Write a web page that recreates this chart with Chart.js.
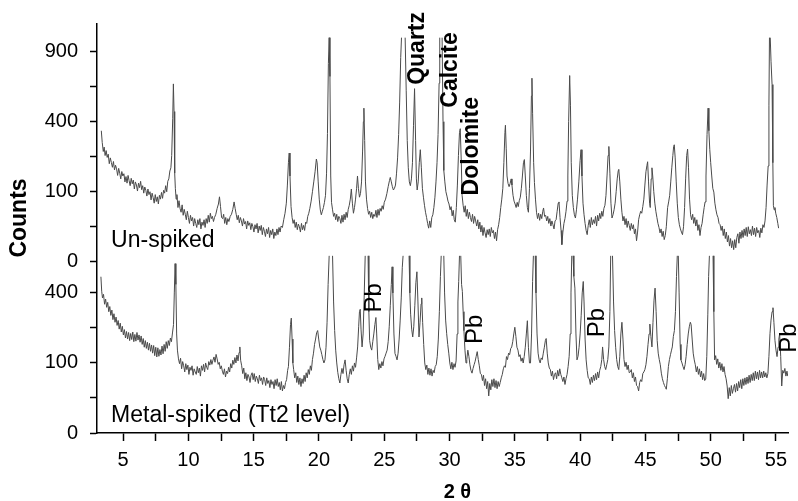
<!DOCTYPE html>
<html>
<head>
<meta charset="utf-8">
<script src="https://cdn.jsdelivr.net/npm/chart.js@4.4.1/dist/chart.umd.min.js"></script>
<style>
    body { margin: 0; background: #ffffff; }
    canvas { display: block; }
</style>
</head>
<body>
<canvas id="xrdChart" width="798" height="501"></canvas>
<script>
// [2 theta, counts] (top panel), peaks cut at the top like the original
const unspikedPattern = [
    [3.33,350],[3.40,290],[3.48,248],[3.55,268],[3.62,230],[3.70,252],[3.78,222],[3.86,236],[3.94,196],[4.02,220],
    [4.10,201],[4.18,182],[4.26,205],[4.34,172],[4.42,190],[4.50,176],[4.58,152],[4.66,178],[4.74,160],[4.82,140],
    [4.90,166],[4.98,150],[5.06,158],[5.14,130],[5.22,148],[5.30,126],[5.38,152],[5.46,134],[5.54,118],[5.62,142],
    [5.70,124],[5.78,136],[5.86,108],[5.94,130],[6.02,120],[6.10,102],[6.18,126],[6.26,112],[6.34,132],[6.42,106],
    [6.50,118],[6.58,96],[6.66,114],[6.74,104],[6.82,88],[6.90,108],[6.98,92],[7.06,100],[7.14,78],[7.22,96],
    [7.30,84],[7.38,70],[7.46,92],[7.54,74],[7.62,86],[7.70,68],[7.78,90],[7.86,80],[7.94,98],[8.02,82],
    [8.10,104],[8.18,96],[8.26,118],[8.34,100],[8.42,132],[8.50,140],[8.58,168],[8.66,180],[8.72,230],[8.80,420],
    [8.85,645],[8.90,460],[8.95,160],[9.00,110],[9.06,80],[9.12,92],[9.20,60],[9.28,76],[9.36,58],[9.44,50],
    [9.52,66],[9.60,44],[9.68,56],[9.76,46],[9.84,36],[9.92,52],[10.00,40],[10.08,30],[10.16,44],[10.24,34],
    [10.32,40],[10.40,26],[10.48,38],[10.56,30],[10.64,24],[10.72,36],[10.80,28],[10.88,38],[10.96,22],[11.04,32],
    [11.12,27],[11.20,36],[11.28,24],[11.36,38],[11.44,30],[11.52,44],[11.60,32],[11.68,48],[11.76,38],[11.84,42],
    [11.92,33],[12.00,40],[12.10,46],[12.20,58],[12.30,68],[12.38,86],[12.46,62],[12.54,40],[12.62,38],[12.70,46],
    [12.78,30],[12.86,40],[12.94,28],[13.02,38],[13.10,33],[13.20,42],[13.30,46],[13.40,56],[13.50,73],[13.58,58],
    [13.66,46],[13.74,36],[13.82,44],[13.90,31],[13.98,40],[14.06,34],[14.14,26],[14.22,38],[14.30,29],[14.38,33],
    [14.46,22],[14.54,34],[14.62,27],[14.70,31],[14.78,21],[14.86,30],[14.94,25],[15.02,18],[15.10,28],[15.18,22],
    [15.26,30],[15.34,17],[15.42,26],[15.50,20],[15.58,27],[15.66,15],[15.74,24],[15.82,19],[15.90,13],[15.98,22],
    [16.06,16],[16.14,24],[16.22,12],[16.30,20],[16.38,15],[16.46,22],[16.54,11],[16.62,18],[16.70,14],[16.78,22],
    [16.86,15],[16.94,24],[17.02,18],[17.10,26],[17.20,24],[17.30,36],[17.40,48],[17.50,70],[17.58,120],[17.66,200],
    [17.72,241],[17.78,150],[17.86,62],[17.94,40],[18.02,30],[18.10,36],[18.18,24],[18.26,32],[18.34,21],[18.42,29],
    [18.50,25],[18.58,18],[18.66,30],[18.74,21],[18.82,27],[18.90,20],[18.98,32],[19.06,30],[19.14,42],[19.22,48],
    [19.30,58],[19.40,75],[19.50,100],[19.60,130],[19.70,165],[19.80,215],[19.86,200],[19.94,130],[20.02,80],[20.10,55],
    [20.18,45],[20.26,52],[20.34,60],[20.42,72],[20.50,90],[20.58,160],[20.65,335],[20.72,800],[20.78,1024],[20.84,700],
    [20.90,150],[20.96,72],[21.04,55],[21.12,42],[21.20,48],[21.28,36],[21.36,46],[21.44,33],[21.52,42],[21.60,38],
    [21.68,30],[21.76,44],[21.84,32],[21.92,46],[22.00,36],[22.08,50],[22.16,40],[22.24,56],[22.32,65],[22.40,80],
    [22.48,108],[22.56,70],[22.64,48],[22.72,60],[22.80,80],[22.88,110],[22.95,150],[23.02,110],[23.10,85],[23.18,95],
    [23.26,130],[23.34,250],[23.40,400],[23.44,481],[23.50,300],[23.56,130],[23.64,80],[23.72,58],[23.80,46],[23.88,52],
    [23.96,40],[24.04,50],[24.12,38],[24.20,46],[24.28,42],[24.36,54],[24.44,40],[24.52,56],[24.60,44],[24.68,58],
    [24.76,52],[24.84,64],[24.92,56],[25.00,72],[25.10,80],[25.20,95],[25.30,115],[25.40,135],[25.46,145],[25.54,130],
    [25.62,115],[25.70,105],[25.78,110],[25.86,120],[25.94,160],[26.02,220],[26.10,330],[26.18,520],[26.26,850],[26.32,1024],
    [26.60,1024],[26.68,600],[26.76,300],[26.84,180],[26.92,130],[27.00,118],[27.08,140],[27.16,200],[27.24,380],[27.32,611],
    [27.40,300],[27.46,140],[27.52,105],[27.60,130],[27.68,200],[27.76,256],[27.84,180],[27.92,110],[28.00,85],[28.08,65],
    [28.16,50],[28.24,40],[28.32,30],[28.40,23],[28.48,34],[28.56,24],[28.64,40],[28.72,45],[28.80,60],[28.88,85],
    [28.96,130],[29.04,200],[29.12,330],[29.20,650],[29.25,1024],[29.43,1024],[29.50,400],[29.56,170],[29.64,130],[29.72,100],
    [29.80,88],[29.88,75],[29.96,68],[30.04,55],[30.12,62],[30.20,43],[30.28,54],[30.36,36],[30.44,32],[30.52,60],
    [30.60,120],[30.68,230],[30.76,340],[30.82,361],[30.90,200],[30.96,90],[31.04,65],[31.12,50],[31.20,64],[31.28,42],
    [31.36,56],[31.44,38],[31.52,50],[31.60,40],[31.68,33],[31.76,46],[31.84,30],[31.92,42],[32.00,34],[32.08,26],
    [32.16,36],[32.24,22],[32.32,32],[32.40,18],[32.48,27],[32.56,14],[32.64,24],[32.72,17],[32.80,12],[32.88,21],
    [32.96,15],[33.04,22],[33.12,13],[33.20,24],[33.28,17],[33.36,20],[33.44,11],[33.52,18],[33.60,9],[33.68,21],
    [33.76,28],[33.84,40],[33.92,60],[34.00,80],[34.08,110],[34.16,200],[34.24,340],[34.28,380],[34.34,260],[34.40,150],
    [34.48,125],[34.56,115],[34.64,125],[34.72,140],[34.78,120],[34.86,90],[34.94,75],[35.02,68],[35.10,60],[35.18,72],
    [35.26,62],[35.34,76],[35.42,85],[35.50,110],[35.58,150],[35.66,200],[35.73,213],[35.80,150],[35.88,90],[35.96,60],
    [36.04,50],[36.12,110],[36.20,250],[36.27,560],[36.31,687],[36.36,450],[36.44,200],[36.50,128],[36.58,80],[36.66,50],
    [36.74,38],[36.82,48],[36.90,35],[36.98,46],[37.06,38],[37.14,52],[37.20,59],[37.28,42],[37.36,44],[37.44,34],
    [37.52,42],[37.60,30],[37.68,38],[37.76,26],[37.84,34],[37.92,28],[38.00,22],[38.08,34],[38.16,36],[38.24,52],
    [38.32,70],[38.38,73],[38.46,40],[38.54,20],[38.60,6],[38.68,18],[38.76,30],[38.84,38],[38.92,52],[39.00,75],
    [39.06,150],[39.12,400],[39.20,707],[39.26,500],[39.32,200],[39.40,90],[39.48,60],[39.56,45],[39.64,39],[39.72,55],
    [39.80,80],[39.90,130],[40.00,210],[40.07,256],[40.14,150],[40.22,70],[40.30,45],[40.38,30],[40.46,20],[40.54,15],
    [40.62,27],[40.70,36],[40.78,24],[40.86,40],[40.94,28],[41.02,36],[41.10,30],[41.18,42],[41.26,26],[41.34,44],
    [41.42,34],[41.50,48],[41.58,38],[41.66,52],[41.74,42],[41.82,58],[41.90,65],[41.98,90],[42.06,150],[42.14,230],
    [42.20,271],[42.28,160],[42.36,70],[42.44,39],[42.52,45],[42.60,55],[42.68,70],[42.76,100],[42.84,140],[42.92,170],
    [42.96,174],[43.04,130],[43.12,80],[43.20,50],[43.28,34],[43.36,42],[43.44,28],[43.52,38],[43.60,24],[43.68,34],
    [43.76,27],[43.84,20],[43.92,30],[44.00,22],[44.08,28],[44.16,16],[44.24,22],[44.32,9],[44.40,18],[44.48,36],
    [44.56,45],[44.64,52],[44.72,48],[44.80,62],[44.88,80],[44.96,120],[45.04,165],[45.12,190],[45.17,204],[45.24,130],
    [45.32,70],[45.37,60],[45.44,140],[45.50,180],[45.56,150],[45.64,100],[45.72,70],[45.80,52],[45.88,40],[45.96,30],
    [46.04,24],[46.12,17],[46.20,22],[46.28,13],[46.36,19],[46.44,10],[46.52,14],[46.60,25],[46.70,60],[46.78,73],
    [46.86,90],[46.94,130],[47.02,180],[47.10,230],[47.16,270],[47.21,279],[47.28,220],[47.36,130],[47.44,70],[47.52,40],
    [47.60,28],[47.68,22],[47.76,18],[47.84,15],[47.92,25],[48.00,60],[48.08,140],[48.16,230],[48.23,259],[48.30,180],
    [48.38,80],[48.46,45],[48.54,36],[48.62,46],[48.70,30],[48.78,40],[48.86,26],[48.94,36],[49.02,20],[49.10,28],
    [49.18,14],[49.26,24],[49.34,30],[49.42,45],[49.50,60],[49.57,73],[49.64,150],[49.72,330],[49.80,481],[49.86,350],
    [49.93,256],[50.00,200],[50.08,150],[50.16,110],[50.24,99],[50.32,70],[50.40,55],[50.48,45],[50.56,40],[50.64,30],
    [50.72,28],[50.80,20],[50.88,26],[50.96,14],[51.04,22],[51.12,11],[51.20,18],[51.28,8],[51.36,14],[51.44,5],
    [51.52,11],[51.60,4],[51.68,9],[51.76,3],[51.84,10],[51.92,4],[52.00,12],[52.08,16],[52.16,7],[52.24,18],
    [52.32,11],[52.40,20],[52.48,12],[52.56,22],[52.64,14],[52.72,24],[52.80,13],[52.88,25],[52.96,16],[53.04,21],
    [53.12,14],[53.20,26],[53.28,15],[53.36,23],[53.44,13],[53.52,24],[53.60,17],[53.68,20],[53.76,12],[53.84,23],
    [53.92,17],[54.00,28],[54.08,24],[54.16,34],[54.24,60],[54.32,120],[54.40,187],[54.46,500],[54.50,1024],[54.56,1024],
    [54.62,820],[54.70,640],[54.76,200],[54.80,65],[54.86,55],[54.92,60],[54.98,48],[55.06,40],[55.14,30],[55.20,23]
]

// [2 theta, counts] for the metal-spiked (Tt2 level) pattern, bottom panel
const spikedPattern = [
    [3.30,498],[3.36,410],[3.42,372],[3.50,392],[3.58,338],[3.66,366],[3.74,322],[3.82,348],[3.90,300],[3.98,326],
    [4.06,282],[4.14,308],[4.22,262],[4.30,290],[4.38,250],[4.46,274],[4.54,236],[4.62,258],[4.70,220],[4.78,246],
    [4.86,208],[4.94,232],[5.02,196],[5.10,218],[5.18,184],[5.26,210],[5.34,180],[5.42,206],[5.50,174],[5.58,202],
    [5.66,178],[5.74,208],[5.82,170],[5.90,198],[5.98,172],[6.06,206],[6.14,176],[6.22,196],[6.30,168],[6.38,192],
    [6.46,160],[6.54,182],[6.62,150],[6.70,174],[6.78,146],[6.86,168],[6.94,140],[7.02,164],[7.10,136],[7.18,158],
    [7.26,130],[7.34,156],[7.42,122],[7.50,150],[7.58,118],[7.66,148],[7.74,120],[7.82,142],[7.90,124],[7.98,154],
    [8.06,128],[8.14,160],[8.22,136],[8.30,170],[8.38,146],[8.46,174],[8.54,156],[8.62,184],[8.70,170],[8.78,204],
    [8.86,240],[8.92,400],[8.98,585],[9.04,450],[9.10,200],[9.16,140],[9.24,112],[9.32,98],[9.40,114],[9.48,84],
    [9.56,104],[9.64,92],[9.72,76],[9.80,98],[9.88,82],[9.96,94],[10.04,70],[10.12,88],[10.20,80],[10.28,92],
    [10.36,68],[10.44,84],[10.52,76],[10.60,70],[10.68,90],[10.76,74],[10.84,86],[10.92,66],[11.00,92],[11.08,80],
    [11.16,96],[11.24,76],[11.32,100],[11.40,88],[11.48,82],[11.56,104],[11.64,94],[11.72,110],[11.80,96],[11.88,108],
    [11.96,118],[12.04,102],[12.12,126],[12.20,112],[12.28,96],[12.36,102],[12.44,84],[12.52,92],[12.60,78],[12.68,70],
    [12.76,84],[12.84,64],[12.92,78],[13.00,72],[13.08,88],[13.16,76],[13.24,98],[13.32,86],[13.40,108],[13.48,96],
    [13.56,116],[13.64,100],[13.72,124],[13.80,106],[13.88,132],[13.94,151],[14.00,108],[14.08,92],[14.16,72],[14.24,86],
    [14.32,60],[14.40,74],[14.48,56],[14.56,70],[14.64,64],[14.72,52],[14.80,68],[14.88,74],[14.96,58],[15.04,72],
    [15.12,54],[15.20,66],[15.28,60],[15.36,50],[15.44,68],[15.52,56],[15.60,62],[15.68,48],[15.76,64],[15.84,58],
    [15.92,46],[16.00,62],[16.08,50],[16.16,56],[16.24,42],[16.32,58],[16.40,48],[16.48,54],[16.56,40],[16.64,58],
    [16.72,46],[16.80,60],[16.88,44],[16.96,52],[17.04,38],[17.12,54],[17.20,36],[17.28,46],[17.36,40],[17.44,52],
    [17.52,58],[17.60,80],[17.66,90],[17.74,150],[17.82,240],[17.88,269],[17.94,180],[18.00,100],[18.06,82],[18.14,62],
    [18.22,74],[18.30,52],[18.38,66],[18.46,48],[18.54,62],[18.62,44],[18.70,60],[18.78,50],[18.86,68],[18.94,54],
    [19.02,74],[19.10,62],[19.18,82],[19.26,70],[19.34,92],[19.42,80],[19.50,110],[19.58,130],[19.66,160],[19.74,180],
    [19.82,205],[19.90,214],[19.98,180],[20.06,151],[20.14,140],[20.22,125],[20.30,110],[20.38,100],[20.46,109],[20.54,150],
    [20.62,250],[20.70,450],[20.78,640],[21.04,640],[21.12,350],[21.20,214],[21.28,140],[21.36,100],[21.44,75],[21.52,60],
    [21.60,51],[21.68,70],[21.76,85],[21.84,72],[21.92,95],[22.00,109],[22.08,80],[22.16,60],[22.24,51],[22.32,70],
    [22.40,84],[22.48,70],[22.56,92],[22.64,78],[22.72,100],[22.80,88],[22.88,115],[22.96,151],[23.04,230],[23.10,300],
    [23.16,312],[23.22,220],[23.30,151],[23.38,200],[23.46,372],[23.54,640],[23.76,640],[23.82,300],[23.88,175],[23.96,150],
    [24.04,140],[24.12,170],[24.20,200],[24.28,240],[24.36,272],[24.42,200],[24.50,110],[24.58,82],[24.66,98],[24.74,86],
    [24.82,104],[24.90,92],[24.98,112],[25.06,120],[25.14,130],[25.22,140],[25.30,170],[25.38,230],[25.46,330],[25.54,450],
    [25.60,563],[25.66,400],[25.74,200],[25.82,129],[25.90,120],[25.98,109],[26.06,130],[26.14,180],[26.22,260],[26.30,372],
    [26.38,560],[26.44,640],[26.90,640],[26.96,400],[27.02,288],[27.10,220],[27.18,188],[27.26,230],[27.34,330],[27.42,460],
    [27.50,530],[27.58,350],[27.66,188],[27.74,250],[27.82,340],[27.87,372],[27.94,250],[28.02,160],[28.10,100],[28.18,82],
    [28.26,94],[28.34,70],[28.42,86],[28.50,68],[28.58,84],[28.66,66],[28.74,80],[28.82,74],[28.90,90],[28.98,95],
    [29.06,120],[29.14,180],[29.22,300],[29.30,500],[29.36,640],[29.56,640],[29.62,400],[29.70,260],[29.78,201],[29.86,160],
    [29.94,130],[30.02,100],[30.10,84],[30.18,102],[30.26,82],[30.34,98],[30.42,88],[30.50,106],[30.58,200],[30.64,350],
    [30.70,468],[30.76,640],[30.86,640],[30.92,450],[30.98,409],[31.04,300],[31.10,214],[31.18,140],[31.26,100],[31.32,110],
    [31.40,140],[31.48,120],[31.56,95],[31.64,80],[31.72,73],[31.80,85],[31.88,95],[31.96,105],[32.04,120],[32.12,135],
    [32.20,110],[32.28,92],[32.36,72],[32.44,70],[32.52,56],[32.60,68],[32.68,46],[32.76,60],[32.84,40],[32.92,54],
    [33.00,28],[33.08,50],[33.16,38],[33.24,58],[33.32,44],[33.40,60],[33.48,42],[33.56,56],[33.64,40],[33.72,54],
    [33.80,44],[33.88,52],[33.96,62],[34.04,70],[34.12,84],[34.20,92],[34.28,88],[34.36,119],[34.44,110],[34.52,130],
    [34.60,125],[34.68,145],[34.76,151],[34.84,170],[34.92,200],[35.00,228],[35.08,190],[35.16,150],[35.24,140],[35.32,119],
    [35.40,125],[35.48,105],[35.56,115],[35.64,100],[35.72,120],[35.80,150],[35.88,200],[35.96,257],[36.04,150],[36.12,100],
    [36.20,100],[36.28,200],[36.36,468],[36.42,640],[36.56,640],[36.62,400],[36.70,200],[36.78,130],[36.86,109],[36.94,100],
    [37.02,115],[37.10,110],[37.18,130],[37.26,150],[37.34,175],[37.40,182],[37.48,130],[37.56,100],[37.64,86],[37.72,82],
    [37.80,66],[37.88,78],[37.96,58],[38.04,70],[38.12,74],[38.20,60],[38.28,80],[38.36,66],[38.44,84],[38.52,70],
    [38.60,62],[38.68,54],[38.76,64],[38.84,48],[38.92,60],[39.00,70],[39.08,90],[39.16,120],[39.24,200],[39.30,400],
    [39.36,640],[39.46,640],[39.52,500],[39.60,428],[39.68,200],[39.76,109],[39.84,120],[39.92,150],[40.00,200],[40.08,280],
    [40.16,400],[40.24,468],[40.30,350],[40.38,180],[40.46,109],[40.54,80],[40.62,62],[40.70,60],[40.78,48],[40.86,64],
    [40.94,52],[41.02,68],[41.10,56],[41.18,72],[41.26,58],[41.34,76],[41.42,62],[41.50,80],[41.58,90],[41.66,110],
    [41.72,151],[41.80,110],[41.88,90],[41.96,82],[42.04,95],[42.12,110],[42.20,151],[42.28,300],[42.34,640],[42.48,640],
    [42.56,350],[42.64,214],[42.72,150],[42.80,110],[42.88,90],[42.96,82],[43.04,120],[43.12,200],[43.20,250],[43.28,180],
    [43.36,110],[43.44,90],[43.52,102],[43.60,82],[43.68,94],[43.76,74],[43.84,76],[43.92,82],[44.00,62],[44.08,74],
    [44.16,54],[44.24,64],[44.32,46],[44.40,44],[44.48,36],[44.56,52],[44.64,58],[44.72,54],[44.80,72],[44.88,76],
    [44.96,82],[45.04,95],[45.12,120],[45.20,160],[45.28,200],[45.34,242],[45.42,190],[45.50,151],[45.58,250],[45.66,360],
    [45.74,428],[45.82,300],[45.90,175],[45.98,130],[46.06,110],[46.14,95],[46.22,73],[46.30,60],[46.38,52],[46.46,46],
    [46.54,42],[46.60,39],[46.68,60],[46.76,90],[46.84,110],[46.92,125],[47.00,140],[47.06,151],[47.14,190],[47.22,214],
    [47.30,300],[47.38,500],[47.44,640],[47.52,640],[47.58,400],[47.66,160],[47.72,109],[47.80,100],[47.88,90],[47.96,82],
    [48.04,95],[48.12,120],[48.20,160],[48.28,200],[48.36,230],[48.44,250],[48.50,240],[48.58,180],[48.66,130],[48.74,109],
    [48.82,95],[48.90,76],[48.98,90],[49.06,70],[49.14,84],[49.22,64],[49.30,78],[49.38,58],[49.46,72],[49.54,56],
    [49.62,59],[49.70,120],[49.78,288],[49.84,500],[49.90,640],[50.18,640],[50.24,300],[50.30,109],[50.38,122],[50.46,96],
    [50.54,112],[50.62,86],[50.70,102],[50.78,80],[50.86,98],[50.94,76],[51.02,90],[51.10,70],[51.18,60],[51.26,45],
    [51.34,24],[51.42,42],[51.50,28],[51.58,46],[51.66,32],[51.74,40],[51.82,48],[51.90,34],[51.98,50],[52.06,36],
    [52.14,54],[52.22,42],[52.30,58],[52.38,40],[52.46,60],[52.54,46],[52.62,62],[52.70,48],[52.78,64],[52.86,50],
    [52.94,68],[53.02,52],[53.10,70],[53.18,56],[53.26,74],[53.34,56],[53.42,78],[53.50,60],[53.58,76],[53.66,58],
    [53.74,80],[53.82,62],[53.90,76],[53.98,62],[54.06,78],[54.14,64],[54.22,74],[54.30,62],[54.38,72],[54.46,120],
    [54.54,201],[54.62,260],[54.70,300],[54.77,320],[54.84,250],[54.92,175],[55.00,140],[55.08,119],[55.16,150],[55.22,180],
    [55.28,201],[55.36,120],[55.44,45],[55.52,80],[55.60,73],[55.68,85],[55.76,66],[55.84,78],[55.90,66]
]

const xMajorTicks = [5, 10, 15, 20, 25, 30, 35, 40, 45, 50, 55]
const xMinorTicks = [7.5, 12.5, 17.5, 22.5, 27.5, 32.5, 37.5, 42.5, 47.5, 52.5]
const topTickCounts = [0, 100, 400, 900]
const topMinorCounts = [25, 225, 625]
const bottomTickCounts = [0, 100, 400]
const bottomMinorCounts = [25, 225]

const xTitle = '2 θ'
const yTitle = 'Counts'
const panelNames = ['Un-spiked', 'Metal-spiked (Tt2 level)']
const phaseNames = ['Quartz', 'Calcite', 'Dolomite']
const phaseTheta = [27.53, 30.06, 31.67]
const phaseCounts = [928, 750, 272]
const leadTheta = [24.23, 31.97, 41.32, 56.03]
const leadCounts = [372, 219, 249, 184]

// counts where the original cut the tallest peaks off
const TOP_CUT = 1024
const BOTTOM_CUT = 640

// both panels share one sqrt-count axis, the top panel sits above an offset
const TOP_OFFSET = 24.45
const Y_MAX = 58.4

const FONT = '"Liberation Sans", Arial, sans-serif'

const toBottom = c => Math.sqrt(c)
const toTop = c => TOP_OFFSET + Math.sqrt(c)

const yTicks = []
bottomTickCounts.forEach(c => yTicks.push({ value: toBottom(c), label: String(c) }))
bottomMinorCounts.forEach(c => yTicks.push({ value: toBottom(c), label: '' }))
topTickCounts.forEach(c => yTicks.push({ value: toTop(c), label: String(c) }))
topMinorCounts.forEach(c => yTicks.push({ value: toTop(c), label: '' }))
yTicks.sort((a, b) => a.value - b.value)

const xTicks = xMajorTicks.concat(xMinorTicks).sort((a, b) => a - b)

const LINE_COLOR = '#4a4a4a'

// no flat caps on cut-off peaks, just the two sides running out of the panel
const cutSegments = cut => ({
    borderColor: ctx => (ctx.p0.parsed.y >= cut - 0.01 && ctx.p1.parsed.y >= cut - 0.01) ? 'rgba(0,0,0,0)' : LINE_COLOR
})

const lineStyle = {
    borderColor: LINE_COLOR,
    borderWidth: 1,
    pointRadius: 0,
    tension: 0,
    fill: false
}

const labelsPlugin = {
    id: 'xrdLabels',
    afterDraw(chart) {
        const { ctx } = chart
        const xs = chart.scales.x
        const ys = chart.scales.y
        ctx.save()
        ctx.fillStyle = '#000000'

        const upright = (text, px, py, font) => {
            ctx.save()
            ctx.translate(px, py)
            ctx.rotate(-Math.PI / 2)
            ctx.font = font
            ctx.textAlign = 'center'
            ctx.textBaseline = 'middle'
            ctx.fillText(text, 0, 0)
            ctx.restore()
        }

        phaseNames.forEach((name, i) => {
            upright(name, xs.getPixelForValue(phaseTheta[i]), ys.getPixelForValue(toTop(phaseCounts[i])), 'bold 23px ' + FONT)
        })
        leadTheta.forEach((theta, i) => {
            upright('Pb', xs.getPixelForValue(theta), ys.getPixelForValue(toBottom(leadCounts[i])), '24px ' + FONT)
        })

        // axis titles, sitting where the original put them
        upright(yTitle, 20, 218, 'bold 23px ' + FONT)
        ctx.font = 'bold 20px ' + FONT
        ctx.textAlign = 'center'
        ctx.textBaseline = 'middle'
        ctx.fillText(xTitle, xs.getPixelForValue(30.6), 492)

        ctx.font = '23px ' + FONT
        ctx.textAlign = 'left'
        ctx.textBaseline = 'alphabetic'
        ctx.fillText(panelNames[0], xs.getPixelForValue(4.08), ys.getPixelForValue(toTop(4.4)))
        ctx.fillText(panelNames[1], xs.getPixelForValue(4.08), ys.getPixelForValue(toBottom(2.4)))
        ctx.restore()
    }
}

const xrdChart = new Chart(document.getElementById('xrdChart'), {
    type: 'line',
    data: {
        datasets: [
            {
                label: panelNames[0],
                data: unspikedPattern.map(p => ({ x: p[0], y: toTop(p[1]) })),
                segment: cutSegments(toTop(TOP_CUT)),
                ...lineStyle
            },
            {
                label: panelNames[1],
                data: spikedPattern.map(p => ({ x: p[0], y: toBottom(p[1]) })),
                segment: cutSegments(toBottom(BOTTOM_CUT)),
                ...lineStyle
            }
        ]
    },
    options: {
        responsive: false,
        animation: false,
        devicePixelRatio: 1,
        layout: { padding: { top: 15, right: 10, left: 0, bottom: 0 } },
        plugins: {
            legend: { display: false },
            tooltip: { enabled: false }
        },
        scales: {
            x: {
                type: 'linear',
                min: 3.0,
                max: 55.92,
                afterBuildTicks: axis => { axis.ticks = xTicks.map(v => ({ value: v })) },
                afterFit: axis => { axis.height = 68 },
                ticks: {
                    autoSkip: false,
                    maxRotation: 0,
                    padding: 7,
                    color: '#000000',
                    font: { family: FONT, size: 20 },
                    callback: v => xMajorTicks.includes(v) ? String(v) : ''
                },
                grid: { drawOnChartArea: false, drawTicks: true, tickLength: 8, tickColor: '#000000', tickWidth: 1.5 },
                border: { display: true, color: '#000000', width: 1.5 }
            },
            y: {
                type: 'linear',
                min: 0,
                max: Y_MAX,
                afterBuildTicks: axis => { axis.ticks = yTicks.map(t => ({ value: t.value })) },
                afterFit: axis => { axis.width = 97 },
                ticks: {
                    autoSkip: false,
                    padding: 12,
                    color: '#000000',
                    font: { family: FONT, size: 20 },
                    callback: (v, i) => yTicks[i] ? yTicks[i].label : ''
                },
                grid: { drawOnChartArea: false, drawTicks: true, tickLength: 7, tickColor: '#000000', tickWidth: 1.5 },
                border: { display: true, color: '#000000', width: 1.5 }
            }
        }
    },
    plugins: [labelsPlugin]
})
</script>
</body>
</html>
